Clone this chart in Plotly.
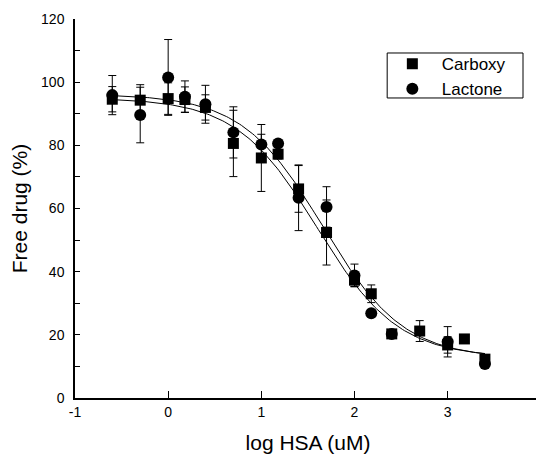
import numpy as np
import plotly.graph_objects as go

# ---- data ----
log_hsa = [-0.6, -0.3, 0.0, 0.18, 0.4, 0.7, 1.0, 1.18, 1.4, 1.7, 2.0, 2.18, 2.4, 2.7, 3.0, 3.18, 3.4]

carboxy_y = [94.6, 94.3, 94.8, 94.5, 92.0, 80.6, 76.0, 77.2, 66.2, 52.4, 37.3, 33.0, 20.3, 21.2, 16.8, 18.7, 12.3]
carboxy_err = [4.0, 4.9, 5.0, 4.0, 4.0, 10.5, 10.6, 1.5, 7.4, 10.3, 2.0, 2.8, 1.0, 3.3, 2.6, 0.0, 1.0]

lactone_x = [-0.6, -0.3, 0.0, 0.18, 0.4, 0.7, 1.0, 1.18, 1.4, 1.7, 2.0, 2.18, 2.4, 3.0, 3.4]
lactone_y = [95.9, 89.6, 101.5, 95.4, 93.0, 84.1, 80.3, 80.6, 63.4, 60.5, 38.8, 26.8, 20.3, 17.8, 10.8]
lactone_err = [6.2, 8.8, 12.0, 5.0, 6.0, 8.1, 3.2, 1.0, 10.4, 6.4, 3.6, 1.0, 1.0, 4.8, 1.0]

# sigmoid fit parameters (top, bottom, logEC50, hill)
carboxy_fit = (95.0, 12.8, 1.60, 1.0)
lactone_fit = (96.2, 12.5, 1.66, 1.0)
fit_range = (-0.6, 3.4)

x_ticks = [-1, 0, 1, 2, 3, 4]
y_ticks = [0, 20, 40, 60, 80, 100, 120]


def sigmoid(x, p):
    top, bottom, c, h = p
    return bottom + (top - bottom) / (1 + 10 ** (h * (x - c)))


xf = np.linspace(fit_range[0], fit_range[1], 200)

fig = go.Figure()
for p in (carboxy_fit, lactone_fit):
    fig.add_trace(go.Scatter(x=xf, y=sigmoid(xf, p), mode="lines",
                             line=dict(color="black", width=1), showlegend=False,
                             hoverinfo="skip"))

fig.add_trace(go.Scatter(
    x=log_hsa, y=carboxy_y, mode="markers", name="\u00a0\u00a0Carboxy",
    marker=dict(symbol="square", size=11, color="black"),
    error_y=dict(type="data", array=carboxy_err, color="black", thickness=1, width=4)))
fig.add_trace(go.Scatter(
    x=lactone_x, y=lactone_y, mode="markers", name="\u00a0\u00a0Lactone",
    marker=dict(symbol="circle", size=12, color="black"),
    error_y=dict(type="data", array=lactone_err, color="black", thickness=1, width=4)))

font = "Liberation Sans, Arial, sans-serif"
# page has an 8px body margin, so the figure is shifted by 8px
fig.update_layout(
    width=544, height=446,
    margin=dict(l=66.5, r=11, t=11, b=56, autoexpand=False),
    paper_bgcolor="white", plot_bgcolor="white",
    font=dict(family=font, color="black", size=14),
    showlegend=True,
    legend=dict(x=0.681, y=0.9285, xanchor="left", yanchor="top",
                borderwidth=0, bgcolor="rgba(0,0,0,0)",
                font=dict(family=font, size=17), tracegroupgap=0,
                itemsizing="trace"),
    shapes=[dict(type="rect", xref="paper", yref="paper",
                 x0=0.6699, x1=0.9614, y0=0.7916, y1=0.9103,
                 line=dict(color="black", width=1), fillcolor="rgba(0,0,0,0)",
                 layer="below")],
)
fig.update_xaxes(
    range=[-1, 4.002], tickvals=x_ticks, ticktext=[str(v) for v in x_ticks],
    ticks="inside", ticklen=7, tickwidth=1, tickcolor="black",
    showline=True, linecolor="black", linewidth=1.5, showgrid=False, zeroline=False,
    title=dict(text="log HSA (uM)", font=dict(size=21), standoff=25),
    tickfont=dict(size=14), automargin=True, ticklabeloverflow="allow",
)
fig.update_yaxes(
    range=[0, 120], tickvals=y_ticks, ticktext=[str(v) for v in y_ticks],
    ticks="inside", ticklen=5, tickwidth=1, tickcolor="black",
    minor=dict(dtick=10, ticks="inside", ticklen=5, tickcolor="black", showgrid=False),
    showline=True, linecolor="black", linewidth=1.5, showgrid=False, zeroline=False,
    title=dict(text="Free drug (%)", font=dict(size=21), standoff=8),
    tickfont=dict(size=14), ticklabelstandoff=6, automargin=False,
)

fig.write_html("out.html")
